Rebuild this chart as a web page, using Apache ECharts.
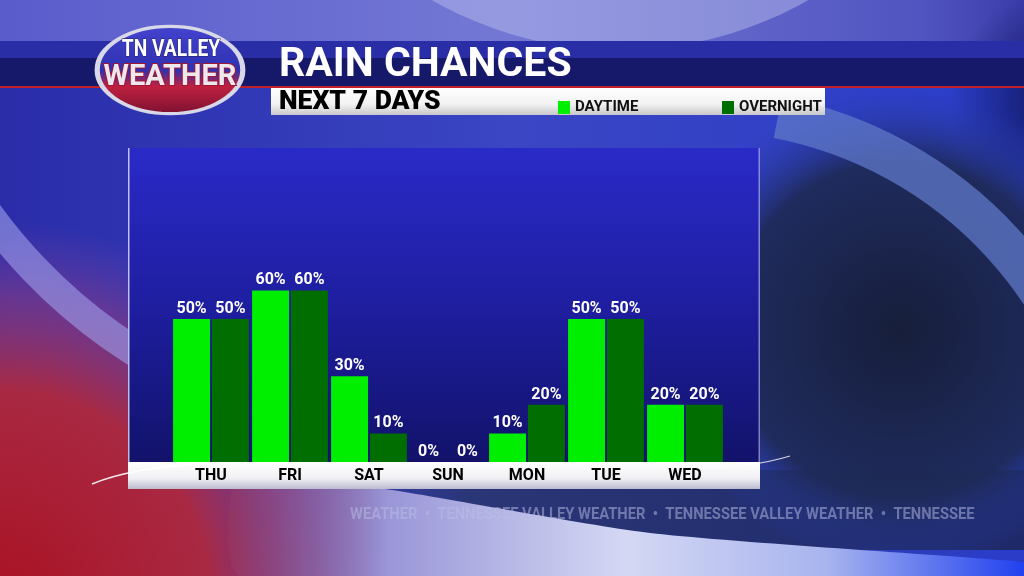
<!DOCTYPE html>
<html>
<head>
<meta charset="utf-8">
<script src="https://cdn.jsdelivr.net/npm/echarts@6/dist/echarts.min.js"></script>
<style>
html,body{margin:0;padding:0;background:#2c38b8;}
#chart{width:1024px;height:576px;}
</style>
</head>
<body>
<div id="chart"></div>
<script>
const days = ['THU', 'FRI', 'SAT', 'SUN', 'MON', 'TUE', 'WED'];
const daytime = [50, 60, 30, 0, 10, 50, 20];
const overnight = [50, 60, 10, 0, 20, 50, 20];
const titleText = 'RAIN CHANCES';
const subtitleText = 'NEXT 7 DAYS';
const watermark = 'WEATHER  •  TENNESSEE VALLEY WEATHER  •  TENNESSEE VALLEY WEATHER  •  TENNESSEE';

const chart = echarts.init(document.getElementById('chart'));
const FONT = 'Roboto, "Noto Sans", sans-serif';
const LG = echarts.graphic.LinearGradient;
const RG = echarts.graphic.RadialGradient;

const bg = [
  // base
  {type:'rect', z:-10, shape:{x:0,y:0,width:1024,height:576},
   style:{fill:new LG(0,0,1,0,[
     {offset:0,color:'#2a2ca8'},{offset:0.5,color:'#3a46c4'},{offset:1,color:'#2a3cc8'}])}},
  // top lavender area
  {type:'rect', z:-9, shape:{x:0,y:0,width:1024,height:42},
   style:{fill:new LG(0,0,1,0,[
     {offset:0,color:'#5a5ccc'},{offset:0.5,color:'#7478d4'},{offset:0.9,color:'#5054c0'},{offset:1,color:'#3a3caa'}])}},
  // top dome
  {type:'circle', z:-9, shape:{cx:620,cy:-330,r:380},
   style:{fill:'rgba(190,195,240,0.45)'}},
  // dark navy upper right corner
  {type:'circle', z:-9, shape:{cx:1060,cy:100,r:110},
   style:{fill:new RG(0.5,0.5,0.5,[
     {offset:0,color:'rgba(16,22,90,1)'},{offset:1,color:'rgba(16,22,90,0)'}])}},
  // red lower-left
  {type:'circle', z:-8, shape:{cx:0,cy:600,r:380},
   style:{fill:new RG(0.5,0.5,0.5,[
     {offset:0,color:'rgba(170,18,35,1)'},{offset:0.55,color:'rgba(175,40,60,0.95)'},{offset:0.8,color:'rgba(140,60,130,0.6)'},{offset:1,color:'rgba(120,70,170,0)'}])}},
  // lavender band on left
  {type:'arc', z:-7, shape:{cx:420,cy:-100,r:534,startAngle:2.0,endAngle:2.75},
   style:{stroke:'rgba(160,160,235,0.6)',lineWidth:30,fill:null}},
  // dark band behind watermark
  {type:'rect', z:-7, shape:{x:330,y:470,width:694,height:80},
   style:{fill:new LG(0,0,1,0,[
     {offset:0,color:'rgba(40,50,110,0)'},{offset:0.2,color:'rgba(40,52,110,0.9)'},{offset:1,color:'rgba(30,40,100,0.95)'}])}},
  // dark right region
  {type:'circle', z:-7, shape:{cx:900,cy:330,r:240},
   style:{fill:new RG(0.5,0.5,0.5,[
     {offset:0,color:'rgba(22,30,58,1)'},{offset:0.7,color:'rgba(30,42,88,0.95)'},{offset:1,color:'rgba(40,60,170,0)'}])}},
  // ring arc upper right
  {type:'arc', z:-6, shape:{cx:700,cy:520,r:410,startAngle:-1.38,endAngle:-0.1},
   style:{stroke:'rgba(95,120,200,0.75)',lineWidth:42,fill:null}},
  // light swoosh bottom
  {type:'polygon', z:-6, shape:{points:[[240,470],[392,490],[650,533],[1000,560],[1024,563],[1024,576],[240,576]], smooth:0.2},
   style:{fill:new LG(0,0,1,0,[
     {offset:0,color:'rgba(160,60,90,0.3)'},{offset:0.2,color:'#9a96d8'},{offset:0.5,color:'#d4d8f4'},{offset:0.75,color:'#a8b4ee'},{offset:1,color:'#2040f0'}])}},
  // watermark
  {type:'text', z:-5, scaleX:0.92, originX:350, originY:515,
   style:{text:watermark, x:350, y:515, fill:'rgba(185,190,230,0.5)',
     font:'bold 16px ' + FONT, textVerticalAlign:'middle'}},
  // header band
  {type:'rect', z:-4, shape:{x:0,y:41,width:1024,height:18},
   style:{fill:'#2a2ea6'}},
  {type:'rect', z:-4, shape:{x:0,y:58,width:1024,height:28},
   style:{fill:'#16186a'}},
  {type:'rect', z:-4, shape:{x:0,y:86,width:1024,height:2},
   style:{fill:'#c0202a'}},
  // subtitle white bar
  {type:'rect', z:-3, shape:{x:271,y:88,width:554,height:27},
   style:{fill:new LG(0,0,0,1,[
     {offset:0,color:'#ffffff'},{offset:0.6,color:'#f2f2f2'},{offset:1,color:'#c8c8cc'}])}},
  {type:'text', z:5, style:{text:titleText, x:279, y:66, fill:'#ffffff',
     font:'bold 41px ' + FONT, textVerticalAlign:'middle'}},
  {type:'text', z:5, scaleX:1.06, originX:279, originY:103,
   style:{text:subtitleText, x:279, y:103, fill:'#000000',
     font:'900 25px ' + FONT, textVerticalAlign:'middle'}},
  // chart panel
  {type:'rect', z:-3, shape:{x:128,y:148,width:632,height:316},
   style:{fill:new LG(0,0,0,1,[
     {offset:0,color:'#2a2ac8'},{offset:0.5,color:'#1e1ea0'},{offset:1,color:'#12126a'}])}},
  {type:'rect', z:-3, shape:{x:128,y:148,width:1.5,height:316},
   style:{fill:'rgba(230,230,255,0.8)'}},
  {type:'rect', z:-3, shape:{x:758.5,y:148,width:1.5,height:316},
   style:{fill:'rgba(200,200,240,0.6)'}},
  // white band under axis
  {type:'rect', z:-2, shape:{x:128,y:462,width:632,height:27},
   style:{fill:new LG(0,0,0,1,[
     {offset:0,color:'#ffffff'},{offset:0.6,color:'#f0f0f4'},{offset:1,color:'#bcbcd0'}])}},
  {type:'bezierCurve', z:-2, shape:{x1:92,y1:484,x2:200,y2:464,cpx1:130,cpy1:468},
   style:{stroke:'rgba(255,255,255,0.9)',lineWidth:1.5,fill:null}},
  {type:'bezierCurve', z:-2, shape:{x1:700,y1:468,x2:790,y2:456,cpx1:750,cpy1:468},
   style:{stroke:'rgba(255,255,255,0.8)',lineWidth:1.2,fill:null}},
  // logo
  {type:'circle', z:1, shape:{cx:170,cy:70,r:56}, scaleX:1.3, scaleY:0.78, originX:170, originY:70,
   style:{fill:new LG(0,0,0,1,[
     {offset:0,color:'#4444d0'},{offset:0.5,color:'#3030b0'},{offset:0.68,color:'#c02040'},{offset:1,color:'#7a1030'}]),
     stroke:'#d8d8e8', lineWidth:4}},
  {type:'text', z:2, scaleX:0.8, originX:171, originY:50,
   style:{text:'TN VALLEY', x:171, y:50, fill:'#ffffff',
     font:'bold 24px ' + FONT, textAlign:'center', textVerticalAlign:'middle',
     stroke:'#20206a', lineWidth:1}},
  {type:'text', z:2, style:{text:'WEATHER', x:170, y:78, fill:'#ece8f0',
     font:'bold 29px ' + FONT, textAlign:'center', textVerticalAlign:'middle',
     stroke:'#a01830', lineWidth:2}}
];

const option = {
  animation: false,
  backgroundColor: 'transparent',
  graphic: bg,
  legend: [
    {data:['DAYTIME'], left:553, top:95, itemWidth:12, itemHeight:13, itemGap:6, icon:'rect',
     textStyle:{color:'#111', fontWeight:'bold', fontSize:15, fontFamily:FONT}, selectedMode:false},
    {data:['OVERNIGHT'], left:717, top:95, itemWidth:12, itemHeight:13, itemGap:6, icon:'rect',
     textStyle:{color:'#111', fontWeight:'bold', fontSize:15, fontFamily:FONT}, selectedMode:false}
  ],
  grid: {left:171.5, right:299.5, top:176, bottom:114},
  xAxis: {
    type:'category', data:days,
    axisLine:{show:false}, axisTick:{show:false},
    axisLabel:{color:'#000', fontWeight:'bold', fontSize:16, fontFamily:FONT, margin:6}
  },
  yAxis: {type:'value', min:0, max:100, show:false, splitLine:{show:false}},
  series: [
    {name:'DAYTIME', type:'bar', data:daytime, barGap:'5%', barCategoryGap:'4%',
     itemStyle:{color:'#00ee00'},
     label:{show:true, position:'top', distance:2, color:'#fff', fontWeight:'bold', fontSize:16,
       fontFamily:FONT, formatter:'{c}%'}},
    {name:'OVERNIGHT', type:'bar', data:overnight, barGap:'5%', barCategoryGap:'4%',
     itemStyle:{color:'#006e00'},
     label:{show:true, position:'top', distance:2, color:'#fff', fontWeight:'bold', fontSize:16,
       fontFamily:FONT, formatter:'{c}%'}}
  ]
};
chart.setOption(option);
</script>
</body>
</html>
